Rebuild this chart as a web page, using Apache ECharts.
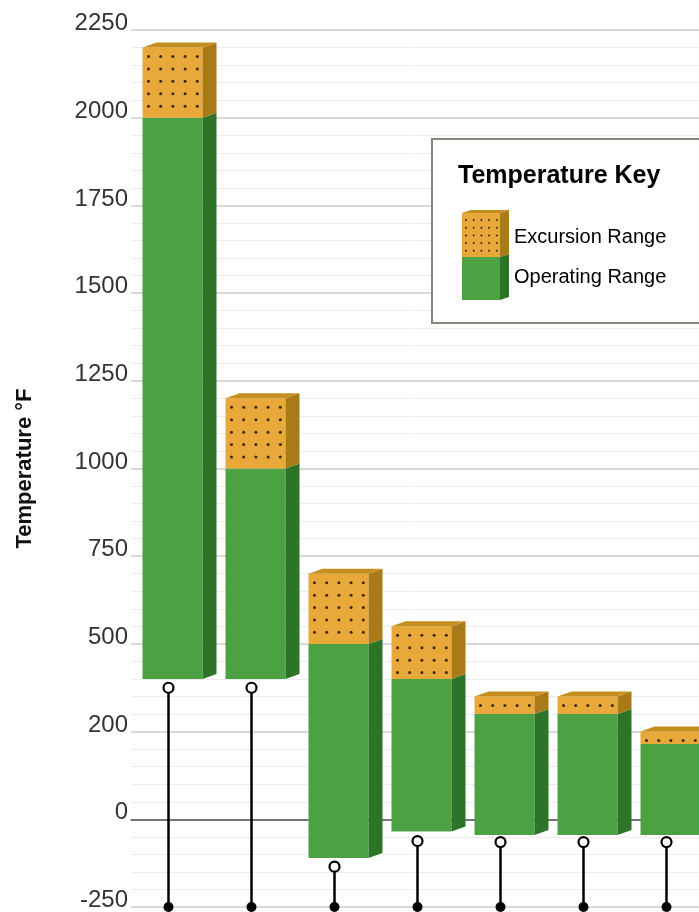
<!DOCTYPE html>
<html>
<head>
<meta charset="utf-8">
<script src="https://cdn.jsdelivr.net/npm/echarts@6/dist/echarts.min.js"></script>
<style>
html,body{margin:0;padding:0;background:#fff;}
#chart{width:699px;height:912px;}
</style>
</head>
<body>
<div id="chart"></div>
<script>
// ---- data ----
const categories = ['1', '2', '3', '4', '5', '6', '7'];
const operatingLow  = [400, 400, -110, -35, -45, -45, -45];
const operatingHigh = [2000, 1000, 500, 400, 300, 300, 215];
const excursionHigh = [2200, 1200, 700, 550, 350, 350, 250];
const stemTop       = [375, 375, -135, -62, -65, -65, -65];
const stemBottom    = -250;
const tickLabels = ['-250', '0', '200', '500', '750', '1000', '1250', '1500', '1750', '2000', '2250'];

const FONT = '"Liberation Sans", Arial, Helvetica, sans-serif';
const GREEN = '#4ca142', GREEN_SIDE = '#2d7429';
const ORANGE = '#e9a83a', ORANGE_SIDE = '#ab7a18', ORANGE_TOP = '#c58f20';
const DOT = '#3a2a12';

const barData = categories.map((c, i) => [i, operatingLow[i], operatingHigh[i], excursionHigh[i]]);
const stemData = categories.map((c, i) => [i, stemTop[i], stemBottom]);

function renderBar(params, api) {
  const i = api.value(0);
  const pLow = api.coord([i, api.value(1)]);
  const pOp = api.coord([i, api.value(2)]);
  const pEx = api.coord([i, api.value(3)]);
  const half = 30, dx = 14, dy = 5;
  const x0 = pLow[0] - half, x1 = pLow[0] + half;
  const yB = pLow[1], yO = pOp[1], yT = pEx[1];
  const children = [
    {type: 'rect', shape: {x: x0, y: yO, width: x1 - x0, height: yB - yO}, style: {fill: GREEN}},
    {type: 'polygon', shape: {points: [[x1, yO], [x1 + dx, yO - dy], [x1 + dx, yB - dy], [x1, yB]]}, style: {fill: GREEN_SIDE}},
    {type: 'rect', shape: {x: x0, y: yT, width: x1 - x0, height: yO - yT}, style: {fill: ORANGE}},
    {type: 'polygon', shape: {points: [[x1, yT], [x1 + dx, yT - dy], [x1 + dx, yO - dy], [x1, yO]]}, style: {fill: ORANGE_SIDE}},
    {type: 'polygon', shape: {points: [[x0, yT], [x0 + dx, yT - dy], [x1 + dx, yT - dy], [x1, yT]]}, style: {fill: ORANGE_TOP}}
  ];
  for (let y = yT + 9; y < yO - 3; y += 12.4) {
    for (let k = 0; k < 5; k++) {
      children.push({type: 'circle', shape: {cx: x0 + 6 + k * 12.2, cy: y, r: 1.5}, style: {fill: DOT}});
    }
  }
  return {type: 'group', children: children};
}

function renderStem(params, api) {
  const i = api.value(0);
  const pTop = api.coord([i, api.value(1)]);
  const pBot = api.coord([i, api.value(2)]);
  const x = pTop[0] - 4;
  return {
    type: 'group',
    children: [
      {type: 'line', shape: {x1: x, y1: pTop[1] + 5, x2: x, y2: pBot[1]}, style: {stroke: '#000', lineWidth: 2.5}},
      {type: 'circle', shape: {cx: x, cy: pTop[1], r: 5}, style: {fill: '#fff', stroke: '#000', lineWidth: 2.2}},
      {type: 'circle', shape: {cx: x, cy: pBot[1], r: 5}, style: {fill: '#000'}}
    ]
  };
}

// legend (drawn as graphic elements)
const legendElems = [
  {type: 'rect', z: 10, shape: {x: 432, y: 139, width: 290, height: 184}, style: {fill: '#fff', stroke: '#8b8479', lineWidth: 2}},
  {type: 'text', z: 11, style: {x: 458, y: 176, text: 'Temperature Key', fontFamily: FONT, fontSize: 25, fontWeight: 'bold', fill: '#000', verticalAlign: 'middle'}},
  {type: 'rect', z: 11, shape: {x: 462, y: 213, width: 38, height: 44}, style: {fill: ORANGE}},
  {type: 'polygon', z: 11, shape: {points: [[462, 213], [471, 210], [509, 210], [500, 213]]}, style: {fill: ORANGE_TOP}},
  {type: 'polygon', z: 11, shape: {points: [[500, 213], [509, 210], [509, 254], [500, 257]]}, style: {fill: ORANGE_SIDE}},
  {type: 'rect', z: 11, shape: {x: 462, y: 257, width: 38, height: 43}, style: {fill: GREEN}},
  {type: 'polygon', z: 11, shape: {points: [[500, 257], [509, 254], [509, 297], [500, 300]]}, style: {fill: GREEN_SIDE}},
  {type: 'text', z: 11, style: {x: 514, y: 237, text: 'Excursion Range', fontFamily: FONT, fontSize: 20, fill: '#000', verticalAlign: 'middle'}},
  {type: 'text', z: 11, style: {x: 514, y: 277, text: 'Operating Range', fontFamily: FONT, fontSize: 20, fill: '#000', verticalAlign: 'middle'}}
];
for (let r = 0; r < 5; r++) {
  for (let c = 0; c < 5; c++) {
    legendElems.push({type: 'circle', z: 12, shape: {cx: 466 + c * 7.7, cy: 220 + r * 7.7, r: 1}, style: {fill: DOT}});
  }
}

const chart = echarts.init(document.getElementById('chart'), null, {renderer: 'canvas'});
chart.setOption({
  backgroundColor: '#fff',
  animation: false,
  grid: {left: 131, right: -13, top: 30, bottom: 5, containLabel: false, outerBoundsMode: 'none'},
  xAxis: {
    type: 'category',
    data: categories,
    boundaryGap: true,
    axisLine: {show: true, onZero: true, lineStyle: {color: '#555', width: 1.5}},
    axisTick: {show: false},
    axisLabel: {show: false},
    splitLine: {show: false}
  },
  yAxis: {
    type: 'value',
    min: -250,
    max: 2250,
    interval: 250,
    name: 'Temperature °F',
    nameLocation: 'middle',
    nameRotate: 90,
    nameGap: 95,
    nameTextStyle: {fontFamily: FONT, fontSize: 22, fontWeight: 'bold', color: '#111'},
    axisLine: {show: false},
    axisTick: {show: false},
    axisLabel: {
      fontFamily: FONT, fontSize: 24, color: '#333', margin: 3,
      verticalAlign: 'bottom', lineHeight: 13,
      formatter: function (v) { return tickLabels[Math.round((v + 250) / 250)]; }
    },
    splitLine: {show: true, lineStyle: {color: '#cdcdcd', width: 1.5}},
    minorTick: {show: false, splitNumber: 5},
    minorSplitLine: {show: true, lineStyle: {color: '#ececec', width: 1}}
  },
  series: [
    {type: 'custom', name: 'bars', renderItem: renderBar, data: barData, encode: {x: 0, y: [1, 2, 3]}, clip: false, z: 3},
    {type: 'custom', name: 'stems', renderItem: renderStem, data: stemData, encode: {x: 0, y: [1, 2]}, clip: false, z: 4}
  ],
  graphic: legendElems
});
</script>
</body>
</html>
